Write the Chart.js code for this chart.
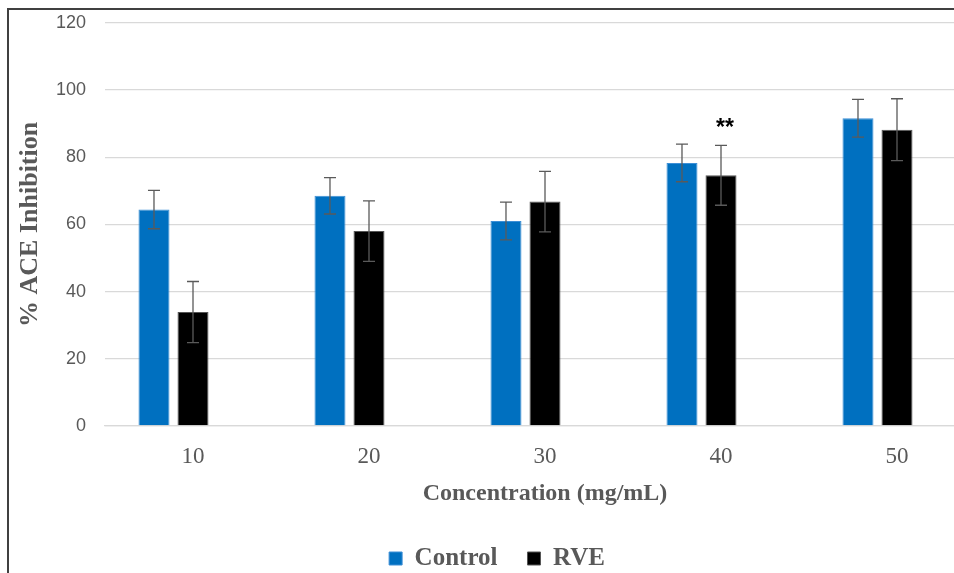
<!DOCTYPE html>
<html>
<head>
<meta charset="utf-8">
<script src="https://cdn.jsdelivr.net/npm/chart.js@4.4.0/dist/chart.umd.min.js"></script>
<style>
  html, body { margin: 0; padding: 0; background: #fff; overflow: hidden; width: 954px; height: 573px; }
  #frame { position: absolute; left: 7px; top: 8px; width: 993px; height: 600px;
           border-left: 2px solid #404040; border-top: 2px solid #404040; }
  #wrap { position: relative; top: -17px; width: 991px; height: 588px; }
</style>
</head>
<body>
<div id="frame"><div id="wrap"><canvas id="graph"></canvas></div></div>
<script>
// data
const categories = ['10', '20', '30', '40', '50'];
const controlMean = [64.4, 68.5, 61.0, 78.3, 91.6];
const controlErr = [5.7, 5.4, 5.6, 5.6, 5.6];
const rveMean = [33.9, 58.0, 66.8, 74.6, 88.2];
const rveErr = [9.1, 9.0, 9.0, 8.9, 9.2];
const rveMarks = ['', '', '', '**', ''];
const yTicks = [0, 20, 40, 60, 80, 100, 120];

const grey = '#595959';

//draws the error bars and the significance stars
const errorBars = {
  id: 'errorBars',
  afterDatasetsDraw(chart) {
    const ctx = chart.ctx;
    const y = chart.scales.y;
    chart.data.datasets.forEach((ds, di) => {
      if (!ds.err) return;
      const meta = chart.getDatasetMeta(di);
      meta.data.forEach((bar, i) => {
        const v = ds.data[i];
        const top = y.getPixelForValue(v + ds.err[i]);
        const bot = y.getPixelForValue(v - ds.err[i]);
        ctx.save();
        ctx.strokeStyle = '#5a5a5a';
        ctx.lineWidth = 1.3;
        ctx.beginPath();
        ctx.moveTo(bar.x, top); ctx.lineTo(bar.x, bot);
        ctx.moveTo(bar.x - 6, top); ctx.lineTo(bar.x + 6, top);
        ctx.moveTo(bar.x - 6, bot); ctx.lineTo(bar.x + 6, bot);
        ctx.stroke();
        if (ds.marks && ds.marks[i]) {
          ctx.fillStyle = '#000';
          ctx.font = 'bold 23px "Liberation Sans"';
          ctx.textAlign = 'center';
          ctx.textBaseline = 'middle';
          ctx.fillText(ds.marks[i], bar.x + 4, top - 17);
        }
        ctx.restore();
      });
    });
  }
};

new Chart(document.querySelector('#graph'), {
  type: 'bar',
  data: {
    labels: categories,
    datasets: [{
      label: 'Control',
      data: controlMean,
      err: controlErr,
      backgroundColor: '#0070C0',
      borderColor: '#3d8fd6',
      borderWidth: 1
    }, {
      label: 'RVE',
      data: rveMean,
      err: rveErr,
      marks: rveMarks,
      backgroundColor: '#000000',
      borderColor: '#555555',
      borderWidth: 1
    }, {
      label: '',
      data: categories.map(() => null),
      backgroundColor: 'rgba(0,0,0,0)'
    }]
  },
  plugins: [errorBars],
  options: {
    responsive: true,
    maintainAspectRatio: false,
    animation: false,
    layout: { padding: { left: 0, top: 0, right: 15, bottom: 0 } },
    datasets: { bar: { categoryPercentage: 0.665, barPercentage: 0.795 } },
    plugins: {
      tooltip: { enabled: false },
      legend: {
        position: 'bottom',
        labels: {
          filter: (item) => item.text !== '',
          color: grey,
          boxWidth: 13,
          boxHeight: 13,
          padding: 30,
          font: { family: '"Liberation Serif"', size: 25, weight: 'bold' }
        }
      }
    },
    scales: {
      x: {
        grid: { display: false },
        border: { color: '#d9d9d9', width: 1.3 },
        ticks: { color: grey, padding: 9, font: { family: '"Liberation Serif"', size: 23 } },
        title: {
          display: true,
          text: 'Concentration (mg/mL)',
          color: grey,
          padding: { top: 0, bottom: 8 },
          font: { family: '"Liberation Serif"', size: 24, weight: 'bold' }
        },
        afterFit: (scale) => { scale.height = 90; }
      },
      y: {
        min: 0,
        max: 120,
        afterBuildTicks: (scale) => { scale.ticks = yTicks.map(v => ({ value: v })); },
        grid: { color: '#d9d9d9', lineWidth: 1.3, drawTicks: false },
        border: { display: false },
        ticks: { color: grey, padding: 19, font: { family: '"Liberation Sans"', size: 18 } },
        title: {
          display: true,
          text: '% ACE Inhibition',
          color: grey,
          padding: { top: 6, bottom: 0 },
          font: { family: '"Liberation Serif"', size: 26, weight: 'bold' }
        },
        afterFit: (scale) => { scale.width = 96; }
      }
    }
  }
});
</script>
</body>
</html>
